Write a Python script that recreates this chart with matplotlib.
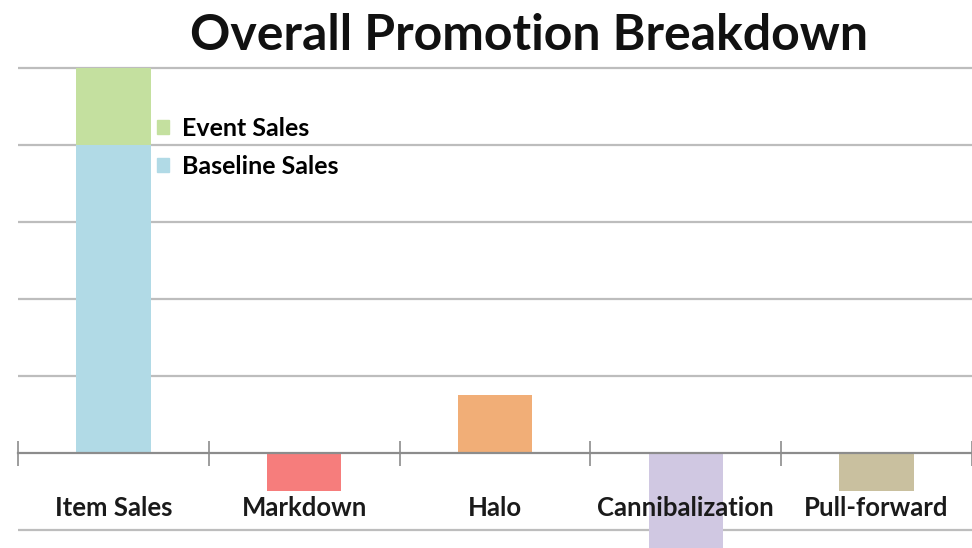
import matplotlib.pyplot as plt
from matplotlib.patches import Patch

# promotion components (units = gridline steps)
categories = ["Item Sales", "Markdown", "Halo", "Cannibalization", "Pull-forward"]
baseline_sales = 4.0
event_sales = 1.0
effects = [0.0, -0.5, 0.75, -1.5, -0.5]

c_base = "#b1dae6"
c_event = "#c4e09f"
c_effects = ["#b1dae6", "#f67d7c", "#f1ae77", "#d0c8e2", "#c9c09f"]

plt.rcParams["font.family"] = ["Lato", "DejaVu Sans"]

fig = plt.figure(figsize=(9.72, 5.48), dpi=100)
ax = fig.add_axes([18 / 972, 0.0, 1 - 18 / 972, 1 - 66 / 548])

x = list(range(len(categories)))
w = 0.39

# stacked item sales bar
ax.bar(0, baseline_sales, width=w, color=c_base, zorder=2)
ax.bar(0, event_sales, width=w, bottom=baseline_sales, color=c_event, zorder=2)

# the remaining effect bars
for i in x[1:]:
    ax.bar(i, effects[i], width=w, color=c_effects[i], zorder=2)

ax.set_xlim(-0.5, len(categories) - 0.5)
ax.set_ylim(-1.234, 5.02)

# horizontal gridlines
ax.set_yticks([-1, 1, 2, 3, 4, 5])
ax.yaxis.grid(True, color="#bdbdbd", linewidth=1.6, zorder=0)
ax.tick_params(axis="y", length=0, labelleft=False)

for s in ["top", "right", "left"]:
    ax.spines[s].set_visible(False)
ax.spines["bottom"].set_position(("data", 0))
ax.spines["bottom"].set_color("#8c8c8c")
ax.spines["bottom"].set_linewidth(1.6)
ax.spines["bottom"].set_zorder(3)

# tick marks on the category boundaries
ax.set_xticks([i - 0.5 for i in range(len(categories) + 1)])
ax.tick_params(axis="x", direction="inout", length=18, width=1.2,
               color="#8c8c8c", labelbottom=False)

for i, name in enumerate(categories):
    ax.text(i, -0.818, name, ha="center", va="baseline", fontsize=18.5,
            fontweight="bold", color="#1a1a1a", zorder=5)

handles = [Patch(color=c_event, label="Event Sales"),
           Patch(color=c_base, label="Baseline Sales")]
ax.legend(handles=handles, loc="upper left", bbox_to_anchor=(0.1457, 0.895),
          frameon=False, borderpad=0, borderaxespad=0,
          handlelength=0.5, handleheight=0.5, handletextpad=0.5,
          labelspacing=0.62, prop={"weight": "bold", "size": 18})

fig.text(529 / 972, 1 - 50 / 548, "Overall Promotion Breakdown",
         ha="center", va="baseline", fontsize=36, fontweight="bold", color="#111111")

fig.savefig("out.png", dpi=100)
